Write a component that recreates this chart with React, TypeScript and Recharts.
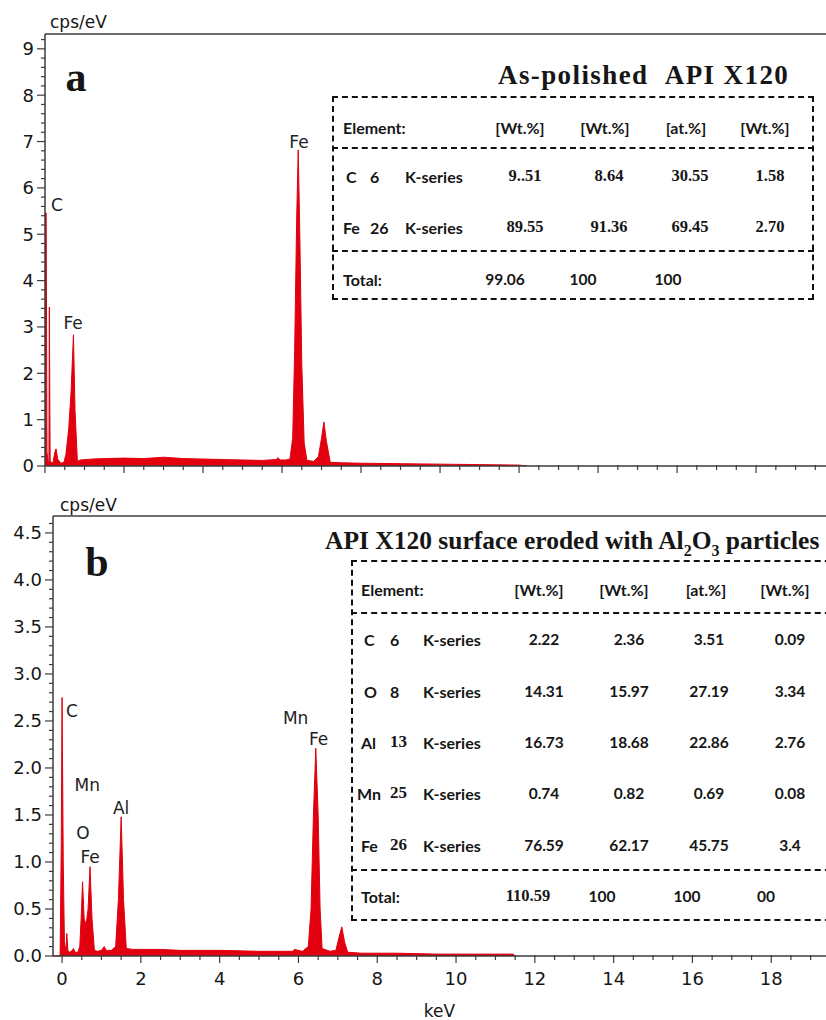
import React from 'react';
import { AreaChart, Area, XAxis, YAxis, ReferenceLine, ReferenceDot } from 'recharts';

const red = '#E2000E';
const ink = '#161616';
const axisGrey = '#3c3c3c';
const sans = '"DejaVu Sans", Verdana, sans-serif';
const serif = '"Liberation Serif", "Times New Roman", serif';
const tableSans = 'Lato, "Open Sans", sans-serif';

// spectrum a: as-polished API X120 (energy in keV, counts in cps/eV)
const kevA = [
  0, 0.03, 0.05, 0.08, 0.1, 0.11, 0.13, 0.2, 0.25, 0.28, 0.32, 0.4, 0.48, 0.53, 0.6, 0.66, 0.72, 0.76,
  0.82, 0.9, 1.2, 1.5, 2.0, 2.5, 3.0, 3.5, 4.0, 4.5, 5.0, 5.5, 5.85, 5.9, 5.95, 6.1, 6.2, 6.27, 6.32,
  6.37, 6.41, 6.45, 6.5, 6.56, 6.63, 6.8, 6.92, 7.0, 7.06, 7.12, 7.22, 7.5, 8.0, 9.0, 10.0, 11.0, 12.0, 12.2,
];
const cpsA = [
  5.46, 5.46, 0.3, 0.08, 0.1, 3.43, 0.1, 0.06, 0.3, 0.37, 0.15, 0.06, 0.08, 0.25, 0.8, 1.6, 2.83, 1.2,
  0.1, 0.13, 0.15, 0.16, 0.17, 0.16, 0.19, 0.16, 0.15, 0.14, 0.13, 0.12, 0.14, 0.18, 0.13, 0.13, 0.15, 0.6, 2.5,
  5.3, 6.82, 5.0, 2.2, 0.5, 0.12, 0.1, 0.2, 0.6, 0.95, 0.55, 0.08, 0.07, 0.06, 0.05, 0.04, 0.03, 0.02, 0,
];

// spectrum b: surface eroded with Al2O3 particles
const kevB = [
  -0.23, -0.05, -0.02, 0, 0.03, 0.06, 0.1, 0.12, 0.15, 0.2, 0.26, 0.29, 0.33, 0.4, 0.45, 0.49, 0.52,
  0.56, 0.61, 0.66, 0.71, 0.76, 0.82, 0.9, 1.0, 1.07, 1.12, 1.25, 1.36, 1.43, 1.5, 1.56, 1.63, 1.8, 2.5,
  3.0, 4.0, 5.0, 5.85, 5.9, 6.1, 6.25, 6.32, 6.38, 6.44, 6.5, 6.55, 6.6, 6.8, 6.95, 7.03, 7.1, 7.17,
  7.25, 7.6, 8.5, 9.5, 10.5, 11.45, 11.5,
];
const cpsB = [
  0, 0, 1.2, 2.75, 1.0, 0.15, 0.05, 0.24, 0.05, 0.04, 0.06, 0.08, 0.04, 0.04, 0.1, 0.45, 0.79,
  0.4, 0.33, 0.5, 0.95, 0.4, 0.06, 0.05, 0.06, 0.1, 0.06, 0.06, 0.1, 0.6, 1.48, 0.6, 0.08, 0.07, 0.07,
  0.06, 0.06, 0.05, 0.05, 0.07, 0.05, 0.1, 0.5, 1.5, 2.21, 1.5, 0.5, 0.08, 0.05, 0.06, 0.2, 0.31, 0.15,
  0.04, 0.03, 0.03, 0.02, 0.02, 0.02, 0,
];

const peakLabelsA = [
  { name: 'C', kev: 0.3, cps: 5.64 },
  { name: 'Fe', kev: 0.71, cps: 3.09 },
  { name: 'Fe', kev: 6.43, cps: 6.98 },
];
const peakLabelsB = [
  { name: 'C', kev: 0.25, cps: 2.61 },
  { name: 'Mn', kev: 0.64, cps: 1.82 },
  { name: 'O', kev: 0.53, cps: 1.31 },
  { name: 'Fe', kev: 0.71, cps: 1.05 },
  { name: 'Al', kev: 1.5, cps: 1.57 },
  { name: 'Mn', kev: 5.93, cps: 2.53 },
  { name: 'Fe', kev: 6.51, cps: 2.31 },
];

const xMajor = [0, 2, 4, 6, 8, 10, 12, 14, 16, 18];
const yMajorA = [0, 1, 2, 3, 4, 5, 6, 7, 8, 9];
const yMajorB = [0, 0.5, 1, 1.5, 2, 2.5, 3, 3.5, 4, 4.5];

const tableHeaders = ['[Wt.%]', '[Wt.%]', '[at.%]', '[Wt.%]'];
const tableARows = [
  { el: 'C', z: '6', values: ['9..51', '8.64', '30.55', '1.58'] },
  { el: 'Fe', z: '26', values: ['89.55', '91.36', '69.45', '2.70'] },
];
const tableATotals = ['99.06', '100', '100'];
const tableBRows = [
  { el: 'C', z: '6', values: ['2.22', '2.36', '3.51', '0.09'] },
  { el: 'O', z: '8', values: ['14.31', '15.97', '27.19', '3.34'] },
  { el: 'Al', z: '13', values: ['16.73', '18.68', '22.86', '2.76'] },
  { el: 'Mn', z: '25', values: ['0.74', '0.82', '0.69', '0.08'] },
  { el: 'Fe', z: '26', values: ['76.59', '62.17', '45.75', '3.4'] },
];
const tableBTotals = ['110.59', '100', '100', '00'];

const zip = (kev: number[], cps: number[]) => kev.map((k, i) => ({ kev: k, cps: cps[i] }));
const dataA = zip(kevA, cpsA);
const dataB = zip(kevB, cpsB);

const buildTicks = (min: number, max: number, step: number) => {
  const out: number[] = [];
  for (let i = Math.ceil(min / step - 1e-9); i * step <= max + 1e-9; i++) {
    out.push(Math.round(i * step * 1000) / 1000);
  }
  return out;
};
const isMajor = (v: number, majors: number[]) => majors.some((m) => Math.abs(m - v) < 1e-6);

const XTick = (props: any) => {
  const { x, y, payload, showLabel } = props;
  const major = isMajor(payload.value, xMajor);
  return (
    <g>
      <line x1={x} x2={x} y1={y - 1} y2={y + (major ? 7 : 4)} stroke={axisGrey} strokeWidth={1.2} />
      {showLabel && major && (
        <text x={x} y={y + 29} textAnchor="middle" fontFamily={sans} fontSize={18} fill={ink}>
          {payload.value}
        </text>
      )}
    </g>
  );
};

const YTick = (props: any) => {
  const { x, y, payload, majors, digits } = props;
  const major = isMajor(payload.value, majors);
  return (
    <g>
      <line x1={x - (major ? 8 : 4)} x2={x} y1={y} y2={y} stroke={axisGrey} strokeWidth={1.2} />
      {major && (
        <text x={x - 11} y={y} dy="0.36em" textAnchor="end" fontFamily={sans} fontSize={18} fill={ink}>
          {payload.value.toFixed(digits)}
        </text>
      )}
    </g>
  );
};

type SpectrumProps = {
  data: { kev: number; cps: number }[];
  width: number;
  height: number;
  xDomain: [number, number];
  yMax: number;
  yMajors: number[];
  yMinorStep: number;
  yDigits: number;
  yAxisWidth: number;
  xAxisHeight: number;
  showXLabels: boolean;
  labels: { name: string; kev: number; cps: number }[];
};

const Spectrum = (p: SpectrumProps) => (
  <AreaChart width={p.width} height={p.height} data={p.data} margin={{ top: 34, right: 0, bottom: 0, left: 0 }}>
    <XAxis
      dataKey="kev"
      type="number"
      domain={p.xDomain}
      ticks={buildTicks(p.xDomain[0], p.xDomain[1], 0.5)}
      interval={0}
      tickSize={0}
      tickMargin={0}
      tickLine={false}
      height={p.xAxisHeight}
      stroke={axisGrey}
      strokeWidth={1.5}
      tick={(t: any) => <XTick {...t} showLabel={p.showXLabels} />}
      label={p.showXLabels ? { value: 'keV', position: 'insideBottom', offset: 3, fontFamily: sans, fontSize: 17, fill: ink } : undefined}
    />
    <YAxis
      type="number"
      domain={[0, p.yMax]}
      ticks={buildTicks(0, p.yMax, p.yMinorStep)}
      interval={0}
      tickSize={0}
      tickMargin={0}
      tickLine={false}
      width={p.yAxisWidth}
      stroke={axisGrey}
      strokeWidth={1.5}
      tick={(t: any) => <YTick {...t} majors={p.yMajors} digits={p.yDigits} />}
    />
    <ReferenceLine y={p.yMax} stroke={axisGrey} strokeWidth={1.5} />
    <Area
      type="linear"
      dataKey="cps"
      stroke={red}
      strokeWidth={1}
      fill={red}
      fillOpacity={1}
      dot={false}
      activeDot={false}
      isAnimationActive={false}
    />
    {p.labels.map((l, i) => (
      <ReferenceDot
        key={i}
        x={l.kev}
        y={l.cps}
        r={1}
        fill="none"
        stroke="none"
        label={{ value: l.name, position: 'center', fontFamily: sans, fontSize: 17, fill: '#222' }}
      />
    ))}
  </AreaChart>
);

const abs = (left: number, top: number, center: boolean, extra: React.CSSProperties = {}): React.CSSProperties => ({
  position: 'absolute',
  left,
  top,
  transform: center ? 'translate(-50%, -50%)' : 'translate(0, -50%)',
  whiteSpace: 'nowrap',
  ...extra,
});

const headStyle: React.CSSProperties = { fontFamily: tableSans, fontWeight: 700, fontSize: 16, color: ink };
const serifNum: React.CSSProperties = { fontFamily: serif, fontWeight: 700, fontSize: 16.5, color: ink };
const sansNum: React.CSSProperties = { fontFamily: tableSans, fontWeight: 700, fontSize: 15.5, color: ink };

type TableLayout = {
  left: number;
  top: number;
  width: number;
  height: number;
  separators: number[];
  headerY: number;
  rowYs: number[];
  totalY: number;
  elX: number;
  zX: number;
  seriesX: number;
  headerXs: number[];
  valueXs: number[];
  totalXs: number[];
};

const dash = '2px dashed #111';

const EdsTable = ({
  layout: L,
  rows,
  totals,
  valueStyle,
  zStyles,
  totalStyles,
}: {
  layout: TableLayout;
  rows: { el: string; z: string; values: string[] }[];
  totals: string[];
  valueStyle: React.CSSProperties;
  zStyles: React.CSSProperties[];
  totalStyles: React.CSSProperties[];
}) => (
  <>
    <div style={{ position: 'absolute', left: L.left, top: L.top, width: L.width, height: L.height, border: dash, boxSizing: 'border-box' }} />
    {L.separators.map((s, i) => (
      <div key={i} style={{ position: 'absolute', left: L.left, top: s, width: L.width, borderTop: dash }} />
    ))}
    <span style={abs(L.elX, L.headerY, false, headStyle)}>Element:</span>
    {tableHeaders.map((h, i) => (
      <span key={i} style={abs(L.headerXs[i], L.headerY, true, headStyle)}>
        {h}
      </span>
    ))}
    {rows.map((r, ri) => (
      <React.Fragment key={ri}>
        <span style={abs(L.elX + (r.el.length === 1 ? 3 : r.el === 'Mn' ? -4 : 0), L.rowYs[ri], false, headStyle)}>{r.el}</span>
        <span style={abs(L.zX, L.rowYs[ri], false, zStyles[ri] || headStyle)}>{r.z}</span>
        <span style={abs(L.seriesX, L.rowYs[ri], false, headStyle)}>K-series</span>
        {r.values.map((v, vi) => (
          <span key={vi} style={abs(L.valueXs[vi], L.rowYs[ri], true, valueStyle)}>
            {v}
          </span>
        ))}
      </React.Fragment>
    ))}
    <span style={abs(L.elX, L.totalY, false, headStyle)}>Total:</span>
    {totals.map((t, i) => (
      <span key={i} style={abs(L.totalXs[i], L.totalY, true, totalStyles[i] || sansNum)}>
        {t}
      </span>
    ))}
  </>
);

const layoutA: TableLayout = {
  left: 332,
  top: 96,
  width: 482,
  height: 204,
  separators: [147, 250],
  headerY: 127,
  rowYs: [176, 227],
  totalY: 279,
  elX: 343,
  zX: 370,
  seriesX: 405,
  headerXs: [520, 605, 686, 765],
  valueXs: [525, 609, 690, 770],
  totalXs: [505, 583, 668],
};

const layoutB: TableLayout = {
  left: 351,
  top: 560,
  width: 500,
  height: 361,
  separators: [612, 869],
  headerY: 589,
  rowYs: [639, 691, 742, 793, 845],
  totalY: 896,
  elX: 361,
  zX: 390,
  seriesX: 423,
  headerXs: [539, 624, 706, 785],
  valueXs: [544, 629, 709, 790],
  totalXs: [528, 602, 687, 766],
};

const titleStyle: React.CSSProperties = { fontFamily: serif, fontWeight: 700, fontSize: 25.5, color: ink };
const letterStyle: React.CSSProperties = { fontFamily: serif, fontWeight: 700, fontSize: 42, color: ink };
const unitStyle: React.CSSProperties = { fontFamily: sans, fontSize: 17, color: ink };
const serifZ: React.CSSProperties = { ...serifNum, fontSize: 17 };

export default function App() {
  return (
    <div style={{ position: 'absolute', left: 0, top: 0, width: 826, height: 1020, background: '#fff', overflow: 'hidden' }}>
      <div style={{ position: 'absolute', left: 0, top: 0 }}>
        <Spectrum
          data={dataA}
          width={826}
          height={482}
          xDomain={[0, 19.77]}
          yMax={9.32}
          yMajors={yMajorA}
          yMinorStep={0.2}
          yDigits={0}
          yAxisWidth={45}
          xAxisHeight={16}
          showXLabels={false}
          labels={peakLabelsA}
        />
      </div>
      <div style={{ position: 'absolute', left: 0, top: 482 }}>
        <Spectrum
          data={dataB}
          width={826}
          height={538}
          xDomain={[-0.23, 19.39]}
          yMax={4.68}
          yMajors={yMajorB}
          yMinorStep={0.1}
          yDigits={1}
          yAxisWidth={53}
          xAxisHeight={64}
          showXLabels={true}
          labels={peakLabelsB}
        />
      </div>

      <span style={abs(50, 22, false, unitStyle)}>cps/eV</span>
      <span style={abs(60, 505, false, unitStyle)}>cps/eV</span>
      <span style={abs(76, 77, true, letterStyle)}>a</span>
      <span style={abs(97, 562, true, letterStyle)}>b</span>

      <span style={abs(498, 75, false, { ...titleStyle, fontSize: 27, letterSpacing: 1.4 })}>As-polished&nbsp;&nbsp;API X120</span>
      <span style={abs(325, 543, false, titleStyle)}>
        API X120 surface eroded with Al<sub style={{ fontSize: 16 }}>2</sub>O<sub style={{ fontSize: 16 }}>3</sub> particles
      </span>

      <EdsTable
        layout={layoutA}
        rows={tableARows}
        totals={tableATotals}
        valueStyle={serifNum}
        zStyles={[headStyle, headStyle]}
        totalStyles={[sansNum, sansNum, sansNum]}
      />
      <EdsTable
        layout={layoutB}
        rows={tableBRows}
        totals={tableBTotals}
        valueStyle={sansNum}
        zStyles={[headStyle, headStyle, serifZ, serifZ, serifZ]}
        totalStyles={[serifNum, sansNum, sansNum, sansNum]}
      />
    </div>
  );
}
